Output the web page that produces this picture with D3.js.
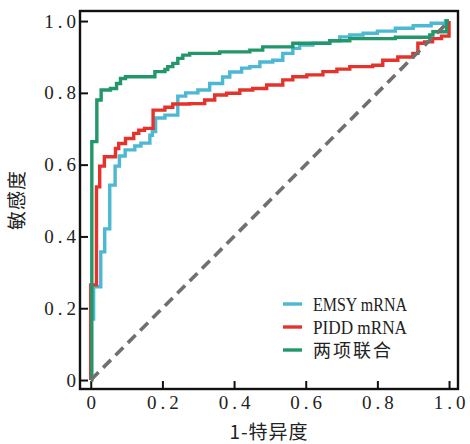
<!DOCTYPE html>
<html>
<head>
<meta charset="utf-8">
<script src="https://cdn.jsdelivr.net/npm/d3@7"></script>
<style>
  html, body { margin: 0; padding: 0; background: #fff; }
  svg { display: block; }
</style>
</head>
<body>
<svg id="chart" width="470" height="444"></svg>
<script>
// ---- data ----
const xTicks = [0, 0.2, 0.4, 0.6, 0.8, 1.0];
const xTickLabels = ["0", "0.2", "0.4", "0.6", "0.8", "1.0"];
const yTicks = [0, 0.2, 0.4, 0.6, 0.8, 1.0];
const yTickLabels = ["0", "0.2", "0.4", "0.6", "0.8", "1.0"];
const xTitle = "1-特异度";
const yTitle = "敏感度";
const seriesNames = ["EMSY mRNA", "PIDD mRNA", "两项联合"];
const seriesColors = ["#4cb8d3", "#e5332b", "#22976a"];

// EMSY mRNA ROC (1-specificity, sensitivity)
const emsyFpr = [0, 0, 0.008, 0.028, 0.039, 0.053, 0.068, 0.08, 0.096, 0.123, 0.14, 0.165, 0.172, 0.181, 0.207, 0.243, 0.265, 0.299, 0.332, 0.368, 0.388, 0.421, 0.444, 0.472, 0.508, 0.536, 0.564, 0.583, 0.62, 0.667, 0.695, 0.723, 0.76, 0.8, 0.85, 0.9, 0.95, 0.99, 1];
const emsyTpr = [0, 0.17, 0.26, 0.357, 0.421, 0.543, 0.596, 0.624, 0.641, 0.652, 0.66, 0.682, 0.692, 0.73, 0.738, 0.791, 0.8, 0.808, 0.826, 0.844, 0.858, 0.869, 0.873, 0.886, 0.891, 0.91, 0.924, 0.933, 0.938, 0.945, 0.956, 0.961, 0.966, 0.972, 0.98, 0.987, 0.994, 1.0, 1.0];

// PIDD mRNA ROC
const piddFpr = [0, 0, 0.016, 0.025, 0.038, 0.069, 0.078, 0.097, 0.12, 0.134, 0.15, 0.174, 0.207, 0.229, 0.276, 0.318, 0.346, 0.379, 0.416, 0.452, 0.491, 0.536, 0.564, 0.603, 0.648, 0.687, 0.723, 0.787, 0.815, 0.857, 0.899, 0.913, 0.932, 0.954, 0.979, 1.0];
const piddTpr = [0, 0.265, 0.538, 0.596, 0.622, 0.645, 0.659, 0.673, 0.687, 0.696, 0.701, 0.752, 0.76, 0.769, 0.77, 0.78, 0.794, 0.799, 0.808, 0.812, 0.822, 0.836, 0.845, 0.85, 0.859, 0.866, 0.873, 0.877, 0.891, 0.9, 0.91, 0.938, 0.942, 0.951, 0.958, 1.0];

// 两项联合 ROC
const combFpr = [0, 0.003, 0.017, 0.029, 0.055, 0.072, 0.083, 0.097, 0.179, 0.207, 0.215, 0.229, 0.243, 0.257, 0.276, 0.36, 0.444, 0.48, 0.564, 0.667, 0.723, 0.85, 0.946, 0.955, 0.993, 1];
const combTpr = [0, 0.664, 0.78, 0.808, 0.812, 0.826, 0.84, 0.845, 0.859, 0.865, 0.873, 0.882, 0.896, 0.905, 0.91, 0.914, 0.919, 0.928, 0.938, 0.945, 0.951, 0.955, 0.961, 0.97, 1.0, 1.0];

// reference diagonal
const diagX = [0, 1];
const diagY = [0, 1];

// ---- drawing ----
const svg = d3.select("#chart");
const serifFont = "'Liberation Serif', 'DejaVu Serif', 'Noto Sans CJK SC', serif";
const cjkFont = "'Noto Sans CJK SC', 'Liberation Serif', sans-serif";

const plotLeft = 80, plotRight = 458, plotTop = 11, plotBottom = 389;
const x = d3.scaleLinear().domain([-0.03, 1.025]).range([plotLeft, plotRight]);
const y = d3.scaleLinear().domain([-0.025, 1.028]).range([plotBottom, plotTop]);

// axes with inward ticks
const xAxis = d3.axisBottom(x)
  .tickValues(xTicks)
  .tickFormat((d, i) => xTickLabels[i])
  .tickSizeInner(-8).tickSizeOuter(0).tickPadding(6.5);
const gx = svg.append("g").attr("transform", `translate(0,${plotBottom})`).call(xAxis);

const yAxis = d3.axisLeft(y)
  .tickValues(yTicks)
  .tickFormat((d, i) => yTickLabels[i])
  .tickSizeInner(-8).tickSizeOuter(0).tickPadding(0);
const gy = svg.append("g").attr("transform", `translate(${plotLeft},0)`).call(yAxis);

[gx, gy].forEach(g => {
  g.select(".domain").remove();
  g.selectAll(".tick line").attr("stroke", "#111").attr("stroke-width", 2);
  g.selectAll(".tick text")
    .attr("fill", "#222")
    .style("font-family", serifFont)
    .style("font-size", "19px")
    .style("letter-spacing", "4px");
});
gx.selectAll(".tick text").attr("dx", "2px");

// series
const lineGen = d3.line()
  .x(d => x(d[0]))
  .y(d => y(d[1]))
  .curve(d3.curveStepAfter);

const series = [
  { fpr: emsyFpr, tpr: emsyTpr },
  { fpr: piddFpr, tpr: piddTpr },
  { fpr: combFpr, tpr: combTpr }
];

series.forEach((s, i) => {
  const pts = s.fpr.map((f, j) => [f, s.tpr[j]]);
  svg.append("path")
    .datum(pts)
    .attr("d", lineGen)
    .attr("fill", "none")
    .attr("stroke", seriesColors[i])
    .attr("stroke-width", 3.4)
    .attr("stroke-linejoin", "miter");
});

// diagonal dashed line
svg.append("path")
  .datum(diagX.map((d, i) => [d, diagY[i]]))
  .attr("d", d3.line().x(d => x(d[0])).y(d => y(d[1])))
  .attr("fill", "none")
  .attr("stroke", "#707070")
  .attr("stroke-width", 3.6)
  .attr("stroke-dasharray", "11,6.5");

// frame
svg.append("rect")
  .attr("x", plotLeft).attr("y", plotTop)
  .attr("width", plotRight - plotLeft).attr("height", plotBottom - plotTop)
  .attr("fill", "none")
  .attr("stroke", "#111")
  .attr("stroke-width", 2.4);

// axis titles
svg.append("text")
  .attr("x", (plotLeft + plotRight) / 2)
  .attr("y", 439)
  .attr("text-anchor", "middle")
  .style("font-family", cjkFont)
  .style("font-size", "19px")
  .style("letter-spacing", "1px")
  .attr("fill", "#222")
  .text(xTitle);

svg.append("text")
  .attr("transform", `translate(24,${(plotTop + plotBottom) / 2}) rotate(-90)`)
  .attr("text-anchor", "middle")
  .style("font-family", cjkFont)
  .style("font-size", "19px")
  .style("letter-spacing", "1px")
  .attr("fill", "#222")
  .text(yTitle);

// legend
const legend = svg.append("g").attr("transform", "translate(283,304)");
seriesNames.forEach((name, i) => {
  const g = legend.append("g").attr("transform", `translate(0,${i * 23})`);
  g.append("line")
    .attr("x1", 0).attr("x2", 19)
    .attr("y1", 0).attr("y2", 0)
    .attr("stroke", seriesColors[i])
    .attr("stroke-width", 3.4);
  const t = g.append("text")
    .attr("x", 30)
    .attr("y", 6.5)
    .attr("fill", "#222")
    .text(name);
  if (/[\u4e00-\u9fff]/.test(name)) {
    t.style("font-family", cjkFont).style("font-size", "18px").style("letter-spacing", "2px");
  } else {
    t.style("font-family", serifFont).style("font-size", "18px")
      .attr("textLength", 94).attr("lengthAdjust", "spacingAndGlyphs");
  }
});
</script>
</body>
</html>
